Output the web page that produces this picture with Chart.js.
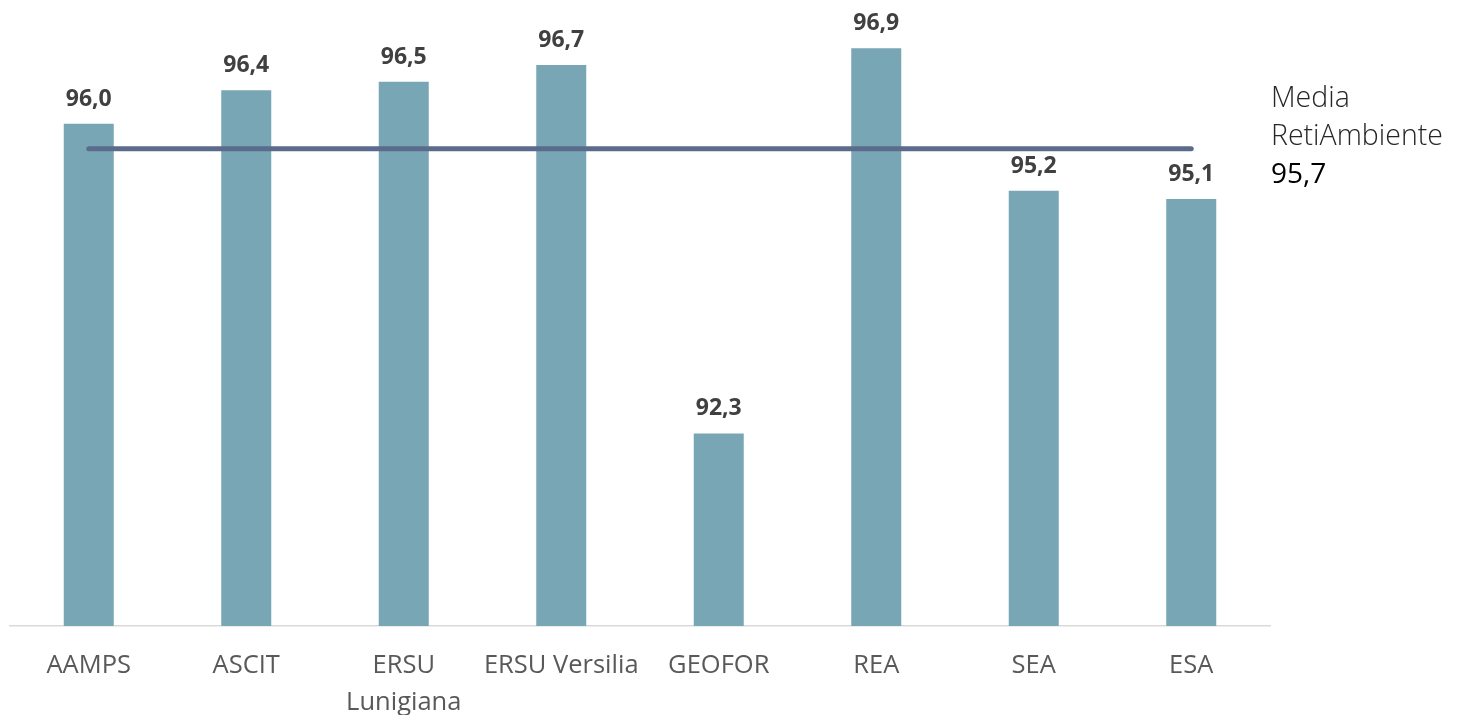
<!DOCTYPE html>
<html>
<head>
<meta charset="utf-8">
<script src="https://cdn.jsdelivr.net/npm/chart.js@4.4.0/dist/chart.umd.min.js"></script>
<style>
    html, body { margin: 0; padding: 0; background: #ffffff; }
    #wrap { width: 1459px; height: 715px; }
</style>
</head>
<body>
<div id="wrap"><canvas id="mainChart" width="1459" height="715"></canvas></div>
<script>
// Chart data
const categories = ['AAMPS', 'ASCIT', ['ERSU', 'Lunigiana'], 'ERSU Versilia', 'GEOFOR', 'REA', 'SEA', 'ESA'];
const values = [96.0, 96.4, 96.5, 96.7, 92.3, 96.9, 95.2, 95.1];
const averageValue = 95.7;
const averageLabel = ['Media', 'RetiAmbiente'];
const yRange = [90, 97];

function formatIt(v) {
    return v.toFixed(1).replace('.', ',');
}

// value labels on top of the bars
const barLabels = {
    id: 'barLabels',
    afterDatasetsDraw(chart) {
        const ctx = chart.ctx;
        const meta = chart.getDatasetMeta(1);
        ctx.save();
        ctx.font = 'bold 23px "Open Sans"';
        ctx.fillStyle = '#404040';
        ctx.textAlign = 'center';
        ctx.textBaseline = 'alphabetic';
        meta.data.forEach(function(bar, i) {
            ctx.fillText(formatIt(values[i]), bar.x, bar.y - 18);
        });
        ctx.restore();
    }
};

// average text on the right side
const averageText = {
    id: 'averageText',
    afterDraw(chart) {
        const ctx = chart.ctx;
        const x = chart.chartArea.right + 1;
        ctx.save();
        ctx.textAlign = 'left';
        ctx.textBaseline = 'alphabetic';
        ctx.font = '300 28.5px "Open Sans"';
        ctx.fillStyle = '#262626';
        ctx.fillText(averageLabel[0], x, 107);
        ctx.fillText(averageLabel[1], x, 145);
        ctx.font = '28px "Open Sans"';
        ctx.fillStyle = '#000000';
        ctx.fillText(formatIt(averageValue), x, 183);
        ctx.restore();
    }
};

document.addEventListener('DOMContentLoaded', function() {
    const ctx = document.getElementById('mainChart').getContext('2d');
    const mainChart = new Chart(ctx, {
        data: {
            labels: categories,
            datasets: [{
                type: 'line',
                label: 'Media RetiAmbiente',
                data: categories.map(function() { return averageValue; }),
                borderColor: '#5B6B8C',
                borderWidth: 5,
                borderCapStyle: 'round',
                pointRadius: 0,
                fill: false,
                order: 0
            }, {
                type: 'bar',
                label: 'Valore',
                data: values,
                backgroundColor: '#79A6B5',
                categoryPercentage: 1,
                barPercentage: 0.3175,
                order: 1
            }]
        },
        options: {
            responsive: false,
            animation: false,
            layout: {
                padding: { left: 10, right: 189, top: 40, bottom: 0 }
            },
            plugins: {
                legend: { display: false },
                tooltip: { enabled: false }
            },
            scales: {
                x: {
                    grid: { display: false, drawTicks: false },
                    border: { display: true, color: '#d9d9d9', width: 1.5 },
                    ticks: {
                        color: '#595959',
                        font: { family: 'Open Sans', size: 25.5, lineHeight: 1.42 },
                        padding: 22,
                        maxRotation: 0,
                        autoSkip: false
                    },
                    afterFit: function(scale) { scale.height = 89; }
                },
                y: {
                    display: false,
                    min: yRange[0],
                    max: yRange[1]
                }
            }
        },
        plugins: [barLabels, averageText]
    });
});
</script>
</body>
</html>
